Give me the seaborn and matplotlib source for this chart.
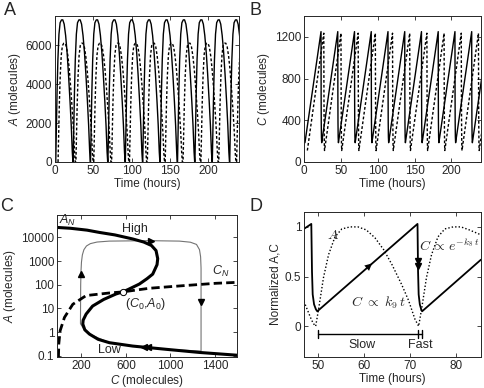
import numpy as np
import pandas as pd
import matplotlib
matplotlib.use("Agg")
import matplotlib.pyplot as plt
import seaborn as sns

# ---- data ----
# one oscillation cycle of A (normalized), offset in hours from the A minimum
prof_t = [0, 0.7, 1.7, 2.8, 4.2, 5.7, 7.5, 9.2, 11.0, 12.9, 14.8, 16.6, 18.7, 20.2, 21.6, 22.4]
prof_a = [0, 0.19, 0.49, 0.72, 0.90, 0.98, 1.0, 1.0, 0.97, 0.89, 0.77, 0.62, 0.42, 0.26, 0.07, 0]
# sawtooth of C within one cycle
solid_c_t = [0.35, 22.15, 22.3, 22.45, 22.7, 23.05]
solid_c_v = [185, 1250, 650, 380, 240, 185]
dash_c_t = [0.6, 22.9, 23.1, 23.35, 23.6, 23.9]
dash_c_v = [110, 1235, 700, 350, 170, 110]
# start of each cycle (hours)
solid_starts = [1.0, 23.7, 46.4, 69.1, 91.8, 114.5, 137.2, 159.9, 182.6, 205.3, 228.0]
dash_starts = [4.0, 27.3, 50.6, 73.9, 97.2, 120.5, 143.8, 167.1, 190.4, 213.7, 237.0]
solid_peak = 7300
dash_peak = 6100

# panel C: nullclines and limit cycle
an_c = [-20, 100, 250, 362, 500, 661, 760, 830, 871, 886, 880, 841, 790, 721, 620, 572, 512, 400, 300,
        242, 215, 212, 230, 272, 350, 452, 661, 961, 1261, 1600]
an_a = [26000, 24000, 20000, 16000, 12600, 8500, 6300, 4500, 2750, 1260, 700, 280, 180, 107, 63, 50, 41,
        24, 12.6, 5.8, 3.2, 2.2, 1.26, 0.83, 0.5, 0.36, 0.26, 0.19, 0.14, 0.107]
cn_c = [-7, -4, 8, 47, 122, 242, 452, 572, 811, 1111, 1410, 1600]
cn_a = [0.09, 0.32, 1.15, 4.2, 15, 35, 45, 50, 71, 91, 115, 126]
cyc_c = [191, 193, 196, 200, 208, 222, 245, 280, 340, 450, 811, 1081, 1180, 1235, 1262, 1272, 1276,
         1276, 1276, 961, 661, 452, 272, 215, 191]
cyc_a = [2.3, 100, 390, 900, 1800, 3000, 4300, 5400, 6300, 6900, 7200, 6900, 6200, 5000, 3000, 1500,
         500, 1.6, 0.16, 0.19, 0.26, 0.36, 0.83, 1.5, 2.3]
c0, a0 = 572, 50

# panel D
d_c_t = [46.9, 48.5, 48.65, 48.8, 49.1, 49.5, 49.8, 71.6, 71.72, 71.85, 72.1, 72.4, 72.6, 85.4]
d_c_v = [0.98, 1.03, 0.55, 0.32, 0.22, 0.17, 0.15, 1.03, 0.55, 0.32, 0.22, 0.17, 0.15, 0.67]
d_a_t = [46.9, 47.6, 48.3, 48.9, 49.45, 50.15, 51.15, 52.25, 53.65, 55.15, 56.95, 58.65, 60.45, 62.35,
         64.25, 66.05, 68.15, 69.65, 71.05, 71.85, 72.55, 73.55, 74.65, 76.05, 77.55, 79.35, 81.05,
         82.85, 85.4]
d_a_v = [0.25, 0.17, 0.09, 0.03, 0.0, 0.19, 0.49, 0.72, 0.90, 0.98, 1.0, 1.0, 0.97, 0.89, 0.77, 0.62,
         0.42, 0.26, 0.07, 0.0, 0.19, 0.49, 0.72, 0.90, 0.98, 1.0, 1.0, 0.97, 0.92]
bar_t = [49.9, 71.7, 72.6]


def tile(starts, pt, pv, scale=1.0):
    t, v = [], []
    for s in starts:
        t += [s + x for x in pt]
        v += [scale * y for y in pv]
    return pd.DataFrame({"t": t, "v": v})


sns.set_style("ticks")
plt.rcParams['font.family'] = ['Liberation Sans', 'DejaVu Sans']
plt.rcParams['mathtext.fontset'] = 'custom'
plt.rcParams['mathtext.it'] = 'Liberation Sans:italic'
plt.rcParams['mathtext.rm'] = 'Liberation Sans'
plt.rcParams['mathtext.bf'] = 'Liberation Sans:bold'
plt.rcParams['font.size'] = 8.5

fig = plt.figure(figsize=(4.84, 3.88), dpi=100)
axA = fig.add_axes([0.1136, 0.5825, 0.380, 0.3763])
axB = fig.add_axes([0.628, 0.5825, 0.3657, 0.3763])
axC = fig.add_axes([0.1178, 0.0799, 0.372, 0.366])
axD = fig.add_axes([0.628, 0.0799, 0.3657, 0.3737])

for ax in [axA, axB, axC, axD]:
    ax.tick_params(direction='in', top=True, right=True, length=3, width=0.6, labelsize=8.5, pad=2)
    for s in ax.spines.values():
        s.set_linewidth(0.7)

# ---- A ----
sa = tile(solid_starts, prof_t, prof_a, solid_peak)
da = tile(dash_starts, prof_t, prof_a, dash_peak)
sns.lineplot(data=sa, x="t", y="v", ax=axA, color="k", lw=1.0, sort=False, estimator=None)
sns.lineplot(data=da, x="t", y="v", ax=axA, color="k", lw=1.0, ls=(0, (2, 1.5)), sort=False, estimator=None)
axA.set_xlim(0, 240)
axA.set_ylim(0, 7500)
axA.set_xticks([0, 50, 100, 150, 200])
axA.set_yticks([0, 2000, 4000, 6000])
axA.set_xlabel("Time (hours)", labelpad=1)
axA.set_ylabel("$A$ (molecules)", labelpad=2)

# ---- B ----
sc = tile(solid_starts, solid_c_t, solid_c_v)
dc = tile(dash_starts, dash_c_t, dash_c_v)
sns.lineplot(data=sc, x="t", y="v", ax=axB, color="k", lw=1.0, sort=False, estimator=None)
sns.lineplot(data=dc, x="t", y="v", ax=axB, color="k", lw=1.0, ls=(0, (2, 1.5)), sort=False, estimator=None)
axB.set_xlim(0, 240)
axB.set_ylim(0, 1400)
axB.set_xticks([0, 50, 100, 150, 200])
axB.set_yticks([0, 400, 800, 1200])
axB.set_xlabel("Time (hours)", labelpad=1)
axB.set_ylabel("$C$ (molecules)", labelpad=2)

# ---- C ----
axC.set_yscale('log')
sns.lineplot(x=cyc_c, y=cyc_a, ax=axC, color="0.45", lw=0.8, sort=False, estimator=None)
sns.lineplot(x=an_c, y=an_a, ax=axC, color="k", lw=2.2, sort=False, estimator=None)
sns.lineplot(x=cn_c, y=cn_a, ax=axC, color="k", lw=2.0, ls=(0, (3, 1.5)), sort=False, estimator=None)
axC.plot([c0], [a0], marker='o', ms=4.5, mfc='white', mec='k', mew=0.7)
axC.plot([194], [280], marker='^', ms=5, color='k')
axC.plot([826], [7150], marker='>', ms=5, color='k')
axC.plot([1276], [18], marker='v', ms=5, color='k')
axC.plot([760, 800], [0.24, 0.235], ls='none', marker='<', ms=4.5, color='k')
axC.set_xlim(-20, 1600)
axC.set_ylim(0.09, 87000)
axC.set_xticks([200, 600, 1000, 1400])
axC.set_yticks([0.1, 1, 10, 100, 1000, 10000])
axC.set_yticklabels(["0.1", "1", "10", "100", "1000", "10000"])
axC.minorticks_off()
axC.set_xlabel("$C$ (molecules)", labelpad=1)
axC.set_ylabel("$A$ (molecules)", labelpad=2)
axC.text(2, 52000, "$A_N$", fontsize=9, va='center')
axC.text(568, 22000, "High", fontsize=9, va='center')
axC.text(347, 0.17, "Low", fontsize=9, va='center')
axC.text(1370, 250, "$C_N$", fontsize=9)
axC.text(590, 12, "$(C_0$,$A_0)$", fontsize=9)

# ---- D ----
sns.lineplot(x=d_a_t, y=d_a_v, ax=axD, color="k", lw=1.0, ls=(0, (1, 1.5)), sort=False, estimator=None)
sns.lineplot(x=d_c_t, y=d_c_v, ax=axD, color="k", lw=1.3, sort=False, estimator=None)
axD.annotate("", xy=(61.7, 0.632), xytext=(60.9, 0.599),
             arrowprops=dict(arrowstyle='-|>,head_length=0.6,head_width=0.3', color='k', lw=0.01,
                             shrinkA=0, shrinkB=0))
axD.plot([71.7, 71.7], [0.66, 0.61], ls='none', marker='v', ms=5, color='k')
axD.plot([bar_t[0], bar_t[2]], [-0.077, -0.077], color='k', lw=1.0)
for bt in bar_t:
    axD.plot([bt, bt], [-0.12, -0.035], color='k', lw=1.0)
axD.text(59.6, -0.19, "Slow", ha='center', va='center', fontsize=9)
axD.text(72.3, -0.19, "Fast", ha='center', va='center', fontsize=9)
axD.text(53.3, 0.92, "$A$", fontsize=10, math_fontfamily='cm', ha='center', va='center')
axD.text(63.1, 0.24, r"$C\ \propto\ k_9\,t$", fontsize=10, math_fontfamily='cm', ha='center', va='center')
axD.text(71.9, 0.81, r"$C\,\propto\,e^{-k_8\,t}$", fontsize=10, math_fontfamily='cm', ha='left', va='center')
axD.set_xlim(46.9, 85.4)
axD.set_ylim(-0.31, 1.15)
axD.set_xticks([50, 60, 70, 80])
axD.set_yticks([0, 0.5, 1])
axD.set_yticklabels(["0", "0.5", "1"])
axD.set_xlabel("Time (hours)", labelpad=1)
axD.set_ylabel("Normalized A,C", labelpad=2)

for lab, x, y in [("A", 0.008, 0.995), ("B", 0.515, 0.995), ("C", 0.0, 0.49), ("D", 0.515, 0.49)]:
    fig.text(x, y, lab, fontsize=13, va='top', ha='left')

fig.savefig("out.png", dpi=100)
